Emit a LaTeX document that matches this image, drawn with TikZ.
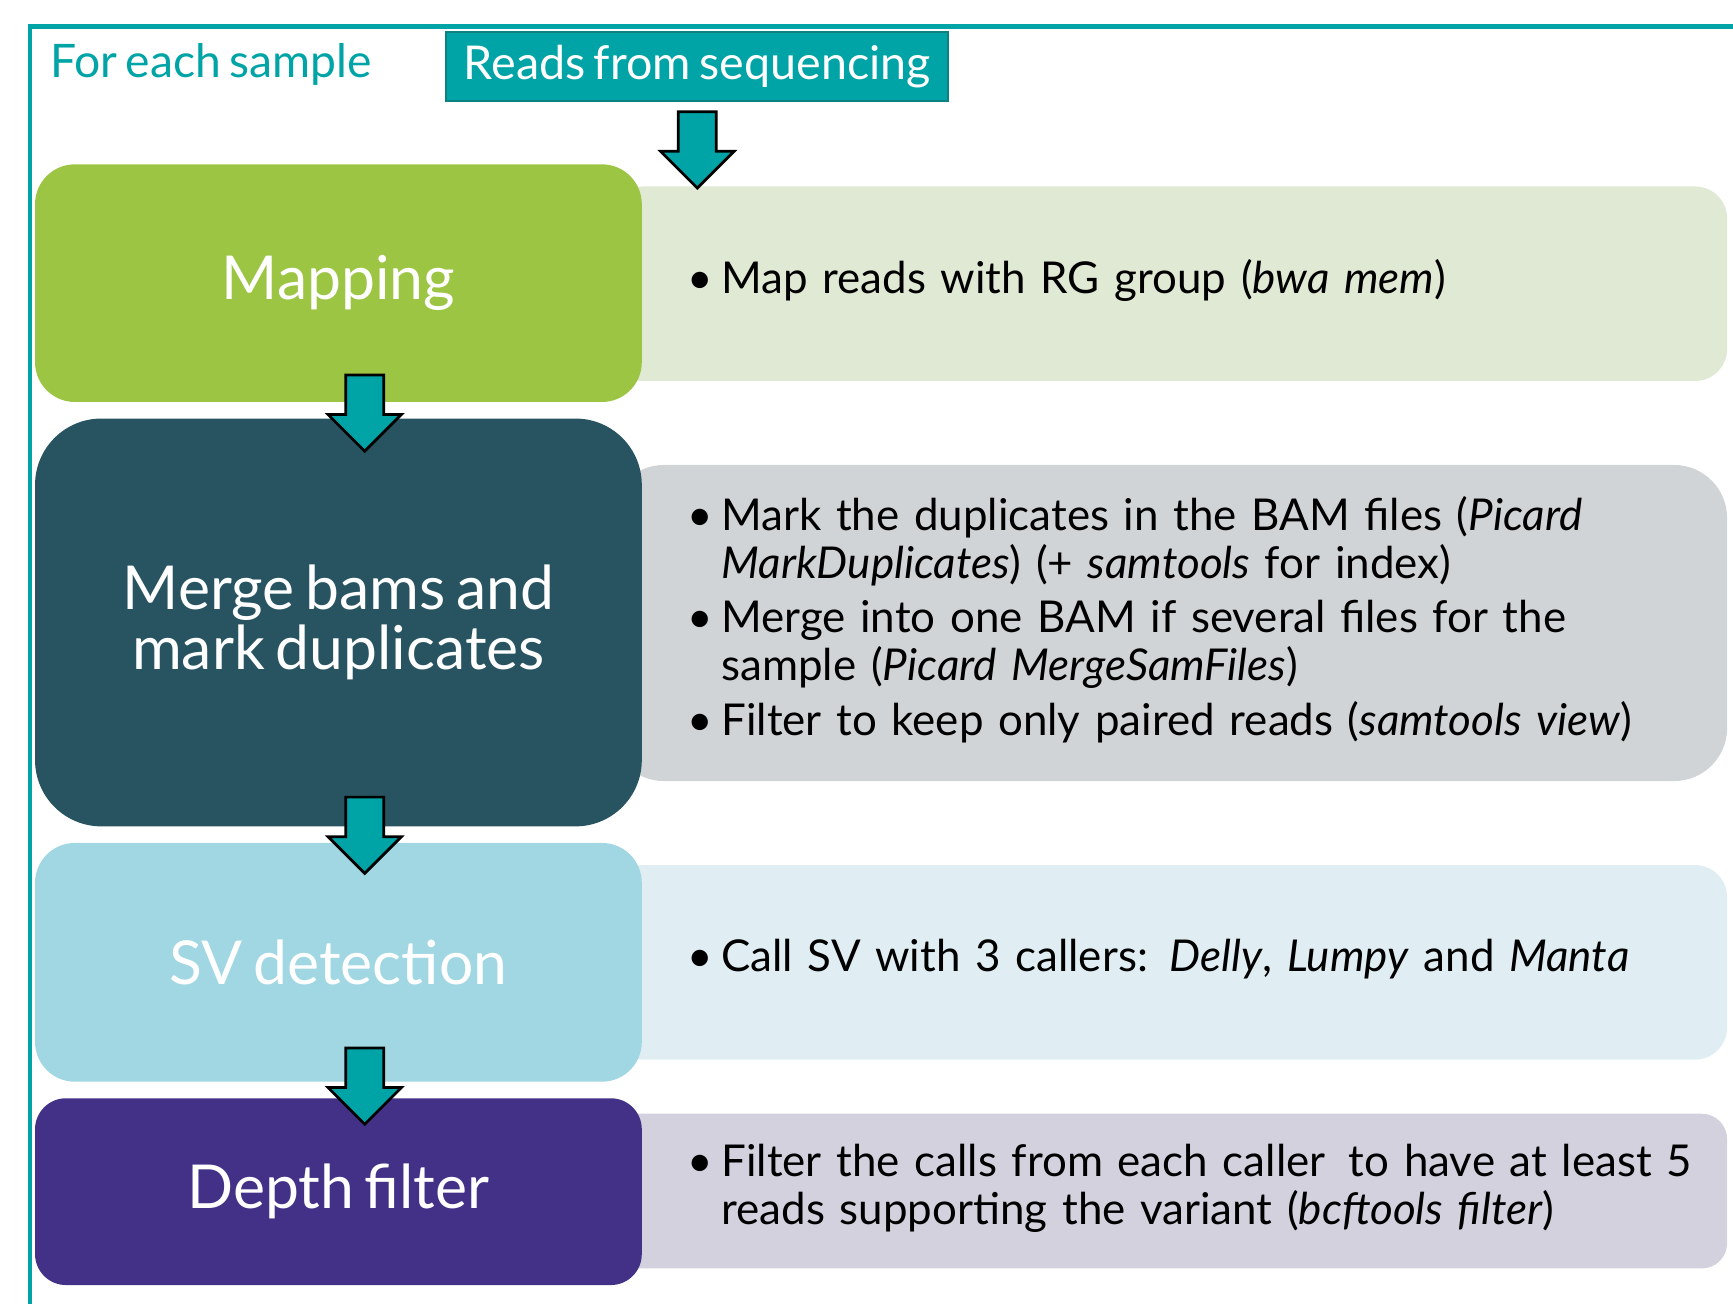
\documentclass[tikz,border=0pt]{standalone}
\usepackage{fontspec}
\setmainfont{Lato}[WordSpace=0.7]
\usetikzlibrary{shapes,arrows,positioning}
\definecolor{seqteal}{RGB}{0,164,166}
\definecolor{seqedge}{RGB}{14,128,128}
\definecolor{mapgreen}{RGB}{157,197,68}
\definecolor{mapinfo}{RGB}{224,233,212}
\definecolor{mergeblue}{RGB}{39,84,96}
\definecolor{mergeinfo}{RGB}{209,212,214}
\definecolor{svblue}{RGB}{161,215,227}
\definecolor{svinfo}{RGB}{224,238,243}
\definecolor{depthpurple}{RGB}{67,49,135}
\definecolor{depthinfo}{RGB}{211,209,222}
\newcommand\steps[1]{\begin{tabular}{@{}p{3.1mm}@{}l@{}}#1\end{tabular}}
\tikzset{every picture/.append style={x=0.1mm,y=-0.1mm}}

\begin{document}
\begin{tikzpicture}
      \tikzstyle{stage}=[anchor=north west,minimum width=54.9mm,text=white,align=center,font=\fontsize{15.6}{15.6}\selectfont]
      \tikzstyle{info}=[anchor=north west,minimum width=101mm,text width=87.2mm,inner xsep=6.9mm,align=left,font=\fontsize{11.3}{12.2}\selectfont]
      \tikzstyle{flow}=[single arrow,rotate=-90,anchor=tail,draw=black,line width=0.7pt,fill=seqteal,inner xsep=0pt,inner ysep=1.6mm,single arrow head extend=1.6mm,minimum height=6.9mm]
      \useasboundingbox (0,0) rectangle (1568,1180);
      \draw[seqteal,line width=0.4mm] (1568,24) -- (27,24) -- (27,1180);
      \node[anchor=base west,inner sep=0pt,text=seqteal,font=\fontsize{11.9}{14}\selectfont] (each) at (45,70) {For each sample};
      \node[anchor=north west,fill=seqteal,draw=seqedge,line width=0.5pt,text=white,minimum width=45.4mm,minimum height=6.1mm,inner xsep=0pt,font=\fontsize{12}{14}\selectfont] (reads) at (403,28) {Reads from sequencing};
      % descriptions
      \node[info,fill=mapinfo,rounded corners=2.9mm,minimum height=17.6mm] (mapi) at (552,168) {\steps{\textbullet & Map reads with RG group (\textit{bwa mem})}};
      \node[info,fill=mergeinfo,rounded corners=4.8mm,minimum height=28.6mm] (mergei) at (552,420) {\steps{\textbullet & Mark the duplicates in the BAM files (\textit{Picard}\\
        & \textit{MarkDuplicates}) (+ \textit{samtools} for index)\\[0.6mm]
        \textbullet & Merge into one BAM if several files for the\\
        & sample (\textit{Picard MergeSamFiles})\\[0.6mm]
        \textbullet & Filter to keep only paired reads (\textit{samtools view})}};
      \node[info,fill=svinfo,rounded corners=2.9mm,minimum height=17.6mm] (svi) at (552,782) {\steps{\textbullet & Call SV with 3 callers: \textit{Delly}, \textit{Lumpy} and \textit{Manta}}};
      \node[info,fill=depthinfo,rounded corners=2.3mm,minimum height=14mm] (depthi) at (552,1007) {\steps{\textbullet & Filter the calls from each caller\hspace{0.2em} to have at least 5\\
        & reads supporting the variant (\textit{bcftools filter})}};
      % stages
      \node[stage,fill=mapgreen,rounded corners=3.6mm,minimum height=21.5mm] (map) at (31,148) {Mapping};
      \node[stage,fill=mergeblue,rounded corners=6mm,minimum height=36.9mm] (merge) at (31,378) {Merge bams and\\mark duplicates};
      \node[stage,fill=svblue,rounded corners=3.6mm,minimum height=21.6mm] (sv) at (31,762) {SV detection};
      \node[stage,fill=depthpurple,rounded corners=2.8mm,minimum height=16.9mm] (depth) at (31,993) {Depth filter};
      % arrows
      \node[flow] (a1) at ([yshift=-0.8mm]reads.south) {};
      \node[flow] (a2) at (330,338) {};
      \node[flow] (a3) at (330,720) {};
      \node[flow] (a4) at (330,947) {};
    \end{tikzpicture}
\end{document}
